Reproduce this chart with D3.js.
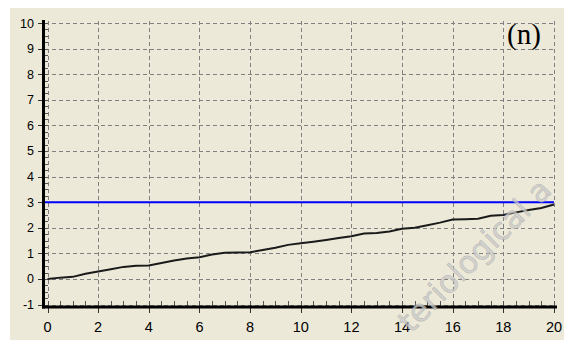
<!DOCTYPE html>
<html>
<head>
<meta charset="utf-8">
<script src="https://cdn.jsdelivr.net/npm/d3@7/dist/d3.min.js"></script>
<style>
  html, body { margin: 0; padding: 0; background: #ffffff; }
  svg { display: block; }
</style>
</head>
<body>
<svg id="chart" width="564" height="340"></svg>
<script>
// Time axis (x) and the measured series
const xValues = [0, 0.5, 1, 1.5, 2, 2.5, 3, 3.5, 4, 4.5, 5, 5.5, 6, 6.5, 7, 7.5, 8, 8.5, 9, 9.5,
                 10, 10.5, 11, 11.5, 12, 12.5, 13, 13.5, 14, 14.5, 15, 15.5, 16, 16.5, 17, 17.5,
                 18, 18.5, 19, 19.5, 20];
const seriesValues = [0.0, 0.05, 0.08, 0.2, 0.29, 0.38, 0.47, 0.51, 0.52, 0.62, 0.72, 0.8, 0.85,
                      0.95, 1.02, 1.03, 1.04, 1.13, 1.22, 1.33, 1.39, 1.45, 1.52, 1.6, 1.67, 1.77,
                      1.79, 1.85, 1.96, 2.0, 2.1, 2.2, 2.32, 2.33, 2.35, 2.47, 2.5, 2.6, 2.69, 2.77, 2.91];
// Horizontal reference level
const thresholdValue = 3;
// Tick labels
const xTickLabels = [0, 2, 4, 6, 8, 10, 12, 14, 16, 18, 20];
const yTickLabels = [-1, 0, 1, 2, 3, 4, 5, 6, 7, 8, 9, 10];
const panelLabel = "(n)";
const watermarkText = "teriological a";

const svg = d3.select("#chart");

// panel background
svg.append("rect")
  .attr("x", 10).attr("y", 8)
  .attr("width", 554).attr("height", 332)
  .attr("fill", "#ece9d8");

const x = d3.scaleLinear().domain([0, 20]).range([47.5, 554]);
const y = d3.scaleLinear().domain([-1, 10]).range([304.5, 23]);

const gridColor = "#808080";
const dash = "4,3";

// horizontal grid lines
svg.append("g")
  .selectAll("line")
  .data(yTickLabels)
  .join("line")
  .attr("x1", 45).attr("x2", x(20) + 1)
  .attr("y1", d => Math.round(y(d)) + 0.5)
  .attr("y2", d => Math.round(y(d)) + 0.5)
  .attr("stroke", gridColor)
  .attr("stroke-width", 1)
  .attr("stroke-dasharray", dash);

// vertical grid lines
svg.append("g")
  .selectAll("line")
  .data(xTickLabels)
  .join("line")
  .attr("x1", d => Math.round(x(d)) + 0.5)
  .attr("x2", d => Math.round(x(d)) + 0.5)
  .attr("y1", y(10) - 2).attr("y2", 306)
  .attr("stroke", gridColor)
  .attr("stroke-width", 1)
  .attr("stroke-dasharray", dash);

// minor ticks on the y axis (every 0.25)
const yMinor = d3.range(-1, 10.001, 0.25);
svg.append("g")
  .selectAll("line")
  .data(yMinor)
  .join("line")
  .attr("x1", 44).attr("x2", 48)
  .attr("y1", d => Math.round(y(d)) + 0.5)
  .attr("y2", d => Math.round(y(d)) + 0.5)
  .attr("stroke", "#555")
  .attr("stroke-width", 1);

// minor ticks on the x axis (every 0.5)
const xMinor = d3.range(0, 20.001, 0.5);
svg.append("g")
  .selectAll("line")
  .data(xMinor)
  .join("line")
  .attr("x1", d => Math.round(x(d)) + 0.5)
  .attr("x2", d => Math.round(x(d)) + 0.5)
  .attr("y1", 301).attr("y2", 306)
  .attr("stroke", "#555")
  .attr("stroke-width", 1);

// major y ticks (left of axis)
svg.append("g")
  .selectAll("line")
  .data(yTickLabels)
  .join("line")
  .attr("x1", 38).attr("x2", 43)
  .attr("y1", d => Math.round(y(d)) + 0.5)
  .attr("y2", d => Math.round(y(d)) + 0.5)
  .attr("stroke", "#333")
  .attr("stroke-width", 1);

// major x ticks (below axis)
svg.append("g")
  .selectAll("line")
  .data(xTickLabels)
  .join("line")
  .attr("x1", d => Math.round(x(d)) + 0.5)
  .attr("x2", d => Math.round(x(d)) + 0.5)
  .attr("y1", 308).attr("y2", 313)
  .attr("stroke", "#333")
  .attr("stroke-width", 1);

// y tick labels
svg.append("g")
  .selectAll("text")
  .data(yTickLabels)
  .join("text")
  .attr("x", 34)
  .attr("y", d => y(d) + 4.5)
  .attr("text-anchor", "end")
  .attr("font-family", "Liberation Sans, Arial, sans-serif")
  .attr("font-size", 12.5)
  .attr("fill", "#000")
  .text(d => d);

// x tick labels
svg.append("g")
  .selectAll("text")
  .data(xTickLabels)
  .join("text")
  .attr("x", d => x(d))
  .attr("y", 332)
  .attr("text-anchor", "middle")
  .attr("font-family", "Liberation Sans, Arial, sans-serif")
  .attr("font-size", 14.5)
  .attr("fill", "#000")
  .text(d => d);

// reference level
svg.append("line")
  .attr("x1", 44).attr("x2", x(20))
  .attr("y1", y(thresholdValue)).attr("y2", y(thresholdValue))
  .attr("stroke", "#0000ff")
  .attr("stroke-width", 2);

// measured series
const line = d3.line()
  .x((d, i) => x(xValues[i]))
  .y(d => y(d));
svg.append("path")
  .datum(seriesValues)
  .attr("d", line)
  .attr("fill", "none")
  .attr("stroke", "#1a1a1a")
  .attr("stroke-width", 2);

// axes frame lines
svg.append("line")
  .attr("x1", 43.5).attr("x2", 43.5)
  .attr("y1", 20).attr("y2", 308.5)
  .attr("stroke", "#000").attr("stroke-width", 3);
svg.append("line")
  .attr("x1", 42).attr("x2", x(20) + 3)
  .attr("y1", 307).attr("y2", 307)
  .attr("stroke", "#000").attr("stroke-width", 3);

// panel label
svg.append("text")
  .attr("x", 507)
  .attr("y", 44)
  .attr("font-family", "Liberation Serif, Times New Roman, serif")
  .attr("font-size", 29)
  .attr("fill", "#000")
  .text(panelLabel);

// publisher watermark, running diagonally across the lower right
svg.append("text")
  .attr("transform", "translate(411,334) rotate(-45)")
  .attr("font-family", "DejaVu Sans, Verdana, sans-serif")
  .attr("font-size", 31)
  .attr("fill", "#cbcbcb")
  .attr("fill-opacity", 0.75)
  .attr("stroke", "#9c9c9c")
  .attr("stroke-opacity", 0.55)
  .attr("stroke-width", 0.6)
  .text(watermarkText);
</script>
</body>
</html>
